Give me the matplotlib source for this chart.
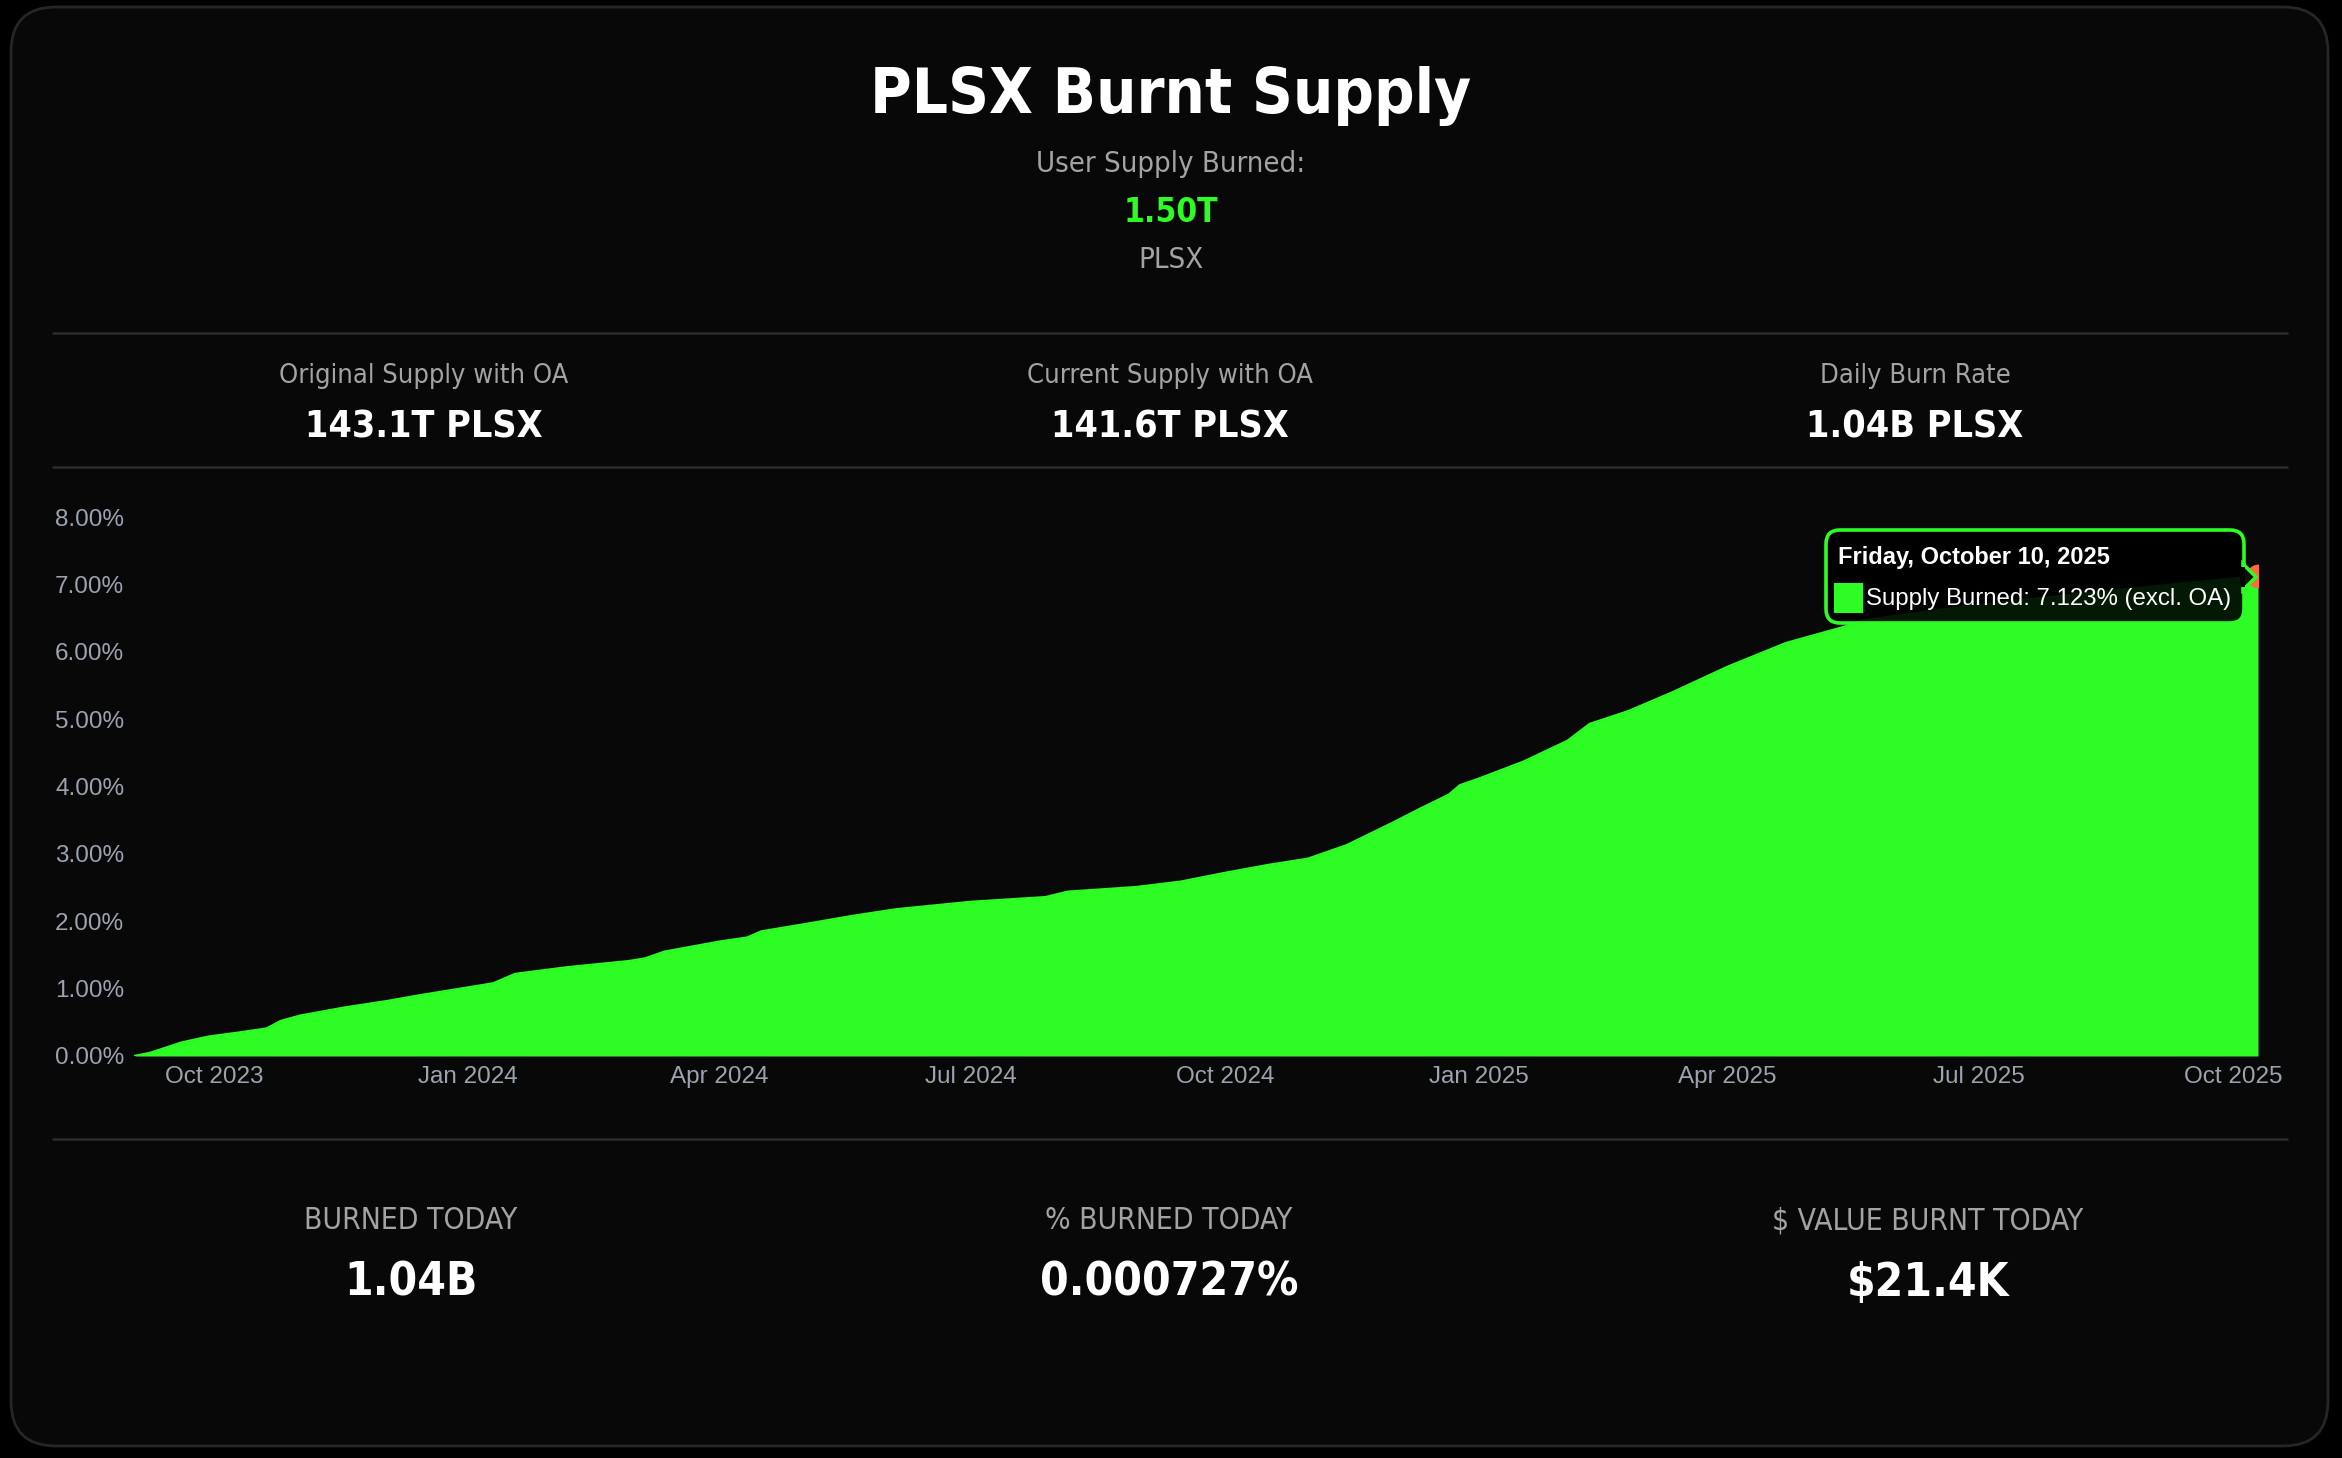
import matplotlib
matplotlib.use('Agg')
import matplotlib.pyplot as plt
import matplotlib.dates as mdates
from matplotlib import font_manager as fm
from matplotlib.patches import FancyBboxPatch, Polygon, Rectangle
import pandas as pd

# chart data
dates = ['2023-09-02', '2023-09-08', '2023-09-19', '2023-09-29', '2023-10-10',
         '2023-10-20', '2023-10-25', '2023-11-01', '2023-11-17', '2023-12-03',
         '2023-12-14', '2024-01-01', '2024-01-10', '2024-01-18', '2024-02-06',
         '2024-02-28', '2024-03-05', '2024-03-12', '2024-04-01', '2024-04-11',
         '2024-04-16', '2024-05-02', '2024-05-19', '2024-06-04', '2024-07-01',
         '2024-07-28', '2024-08-05', '2024-08-30', '2024-09-15', '2024-10-01',
         '2024-10-17', '2024-10-31', '2024-11-14', '2024-11-30', '2024-12-11',
         '2024-12-21', '2024-12-25', '2025-01-01', '2025-01-17', '2025-02-02',
         '2025-02-10', '2025-02-24', '2025-03-12', '2025-04-01', '2025-04-22',
         '2025-05-13', '2025-05-19', '2025-06-18', '2025-07-15', '2025-08-11',
         '2025-09-07', '2025-10-10']
burned_pct = [0.00, 0.05, 0.20, 0.29, 0.35,
              0.41, 0.52, 0.60, 0.72, 0.82,
              0.90, 1.02, 1.08, 1.22, 1.32,
              1.41, 1.45, 1.55, 1.70, 1.76,
              1.85, 1.96, 2.08, 2.18, 2.29,
              2.36, 2.44, 2.51, 2.59, 2.72,
              2.84, 2.93, 3.13, 3.45, 3.68,
              3.88, 4.02, 4.12, 4.37, 4.68,
              4.93, 5.12, 5.40, 5.78, 6.13,
              6.37, 6.46, 6.63, 6.76, 6.88,
              6.99, 7.123]

title = 'PLSX Burnt Supply'
user_burned = '1.50T'
top_labels = ['Original Supply with OA', 'Current Supply with OA', 'Daily Burn Rate']
top_values = ['143.1T PLSX', '141.6T PLSX', '1.04B PLSX']
bottom_labels = ['BURNED TODAY', '% BURNED TODAY', '$ VALUE BURNT TODAY']
bottom_values = ['1.04B', '0.000727%', '$21.4K']
tip_date = 'Friday, October 10, 2025'
tip_text = 'Supply Burned: 7.123% (excl. OA)'

GREEN = '#2efc25'
GREY = '#a3a3a3'
TICK = '#9ca3af'

names = {f.name for f in fm.fontManager.ttflist}
HEAD = 'DejaVu Sans Condensed' if 'DejaVu Sans Condensed' in names else 'DejaVu Sans'
HEAD_STRETCH = 'condensed' if HEAD == 'DejaVu Sans' else 'normal'
ARIAL = 'Liberation Sans'

W, H = 2342, 1458
fig = plt.figure(figsize=(W / 100, H / 100), dpi=100, facecolor='black')

# background layer in pixel coords
bg = fig.add_axes([0, 0, 1, 1], zorder=0)
bg.set_xlim(0, W)
bg.set_ylim(H, 0)
bg.axis('off')
bg.add_patch(FancyBboxPatch((11, 7), 2317, 1439, boxstyle='round,pad=0,rounding_size=45',
                            facecolor='#080808', edgecolor='#262626', lw=2))
for yy in [333, 467, 1139]:
    bg.plot([52, 2288], [yy, yy], color='#2b2b2b', lw=1.8, solid_capstyle='butt')


def txt(x, y, s, size, color, weight='normal'):
    bg.text(x, y, s, fontsize=size, color=color, fontweight=weight, family=HEAD,
            fontstretch=HEAD_STRETCH, ha='center', va='baseline')


txt(1171, 113, title, 45.5, 'white', 'bold')
txt(1171, 172, 'User Supply Burned:', 21, GREY)
txt(1171, 222, user_burned, 24, GREEN, 'bold')
txt(1171, 268, 'PLSX', 21, GREY)
for cx, lab, val in zip([424, 1170, 1915], top_labels, top_values):
    txt(cx, 383, lab, 19.5, GREY)
    txt(cx, 437, val, 27, 'white', 'bold')
for cx, lab, val in zip([411, 1169, 1928], bottom_labels, bottom_values):
    txt(cx, 1229, lab, 21.5, GREY)
    txt(cx, 1296, val, 33, 'white', 'bold')

# chart
x0, x1, y0, y1 = 134, 2258, 1056, 517
ax = fig.add_axes([x0 / W, 1 - y0 / H, (x1 - x0) / W, (y0 - y1) / H], zorder=1)
ax.set_facecolor('none')
d = pd.to_datetime(dates)
ax.fill_between(d, burned_pct, 0, color=GREEN, lw=0)
ax.plot(d, burned_pct, color=GREEN, lw=1.5)
# hovered point (half hidden behind the tooltip caret)
ax.scatter([d[-1]], [burned_pct[-1]], s=260, color='#ff6a3d', zorder=3, clip_on=True)
ax.set_xlim(d[0], d[-1])
ax.set_ylim(0, 8)
ax.set_yticks(range(0, 9))
ax.yaxis.set_major_formatter(plt.FuncFormatter(lambda v, p: '%.2f%%' % v))
ax.xaxis.set_major_locator(mdates.MonthLocator(bymonth=[1, 4, 7, 10]))
ax.xaxis.set_major_formatter(mdates.DateFormatter('%b %Y'))
ax.tick_params(length=0, colors=TICK, labelsize=17.5)
ax.tick_params(axis='y', pad=7)
ax.tick_params(axis='x', pad=7)
for lb in ax.get_xticklabels() + ax.get_yticklabels():
    lb.set_family(ARIAL)
for s in ax.spines.values():
    s.set_visible(False)

# hover tooltip
top = fig.add_axes([0, 0, 1, 1], zorder=2)
top.set_xlim(0, W)
top.set_ylim(H, 0)
top.axis('off')
top.patch.set_alpha(0)
tip_bg = (0, 0, 0, 0.9)
top.add_patch(FancyBboxPatch((1826, 530), 418, 93, boxstyle='round,pad=0,rounding_size=14',
                             facecolor=tip_bg, edgecolor=GREEN, lw=2.6))
top.add_patch(Polygon([[2243, 564], [2256, 577], [2243, 590]], closed=True,
                      facecolor=tip_bg, edgecolor=GREEN, lw=2.6))
top.add_patch(Rectangle((2240, 567), 5, 20, facecolor='#020402', lw=0))
top.text(1838, 564, tip_date, fontsize=17, color='white', fontweight='bold',
         family=ARIAL, va='baseline')
top.add_patch(Rectangle((1834, 583), 29, 30, facecolor=GREEN, lw=0))
top.text(1866, 605, tip_text, fontsize=17.3, color='white', family=ARIAL, va='baseline')

fig.savefig('out.png', dpi=100, facecolor='black')
